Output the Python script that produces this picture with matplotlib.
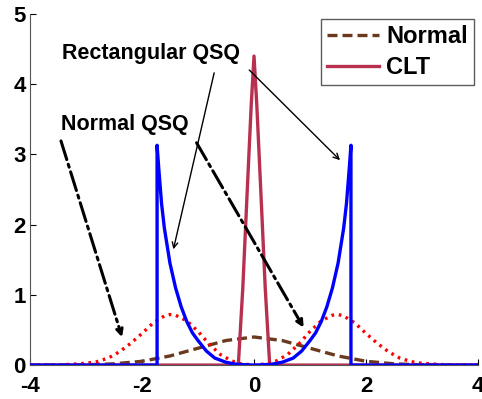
import matplotlib
matplotlib.use("Agg")
import matplotlib.pyplot as plt

plt.rcParams['font.family'] = ['Liberation Sans', 'DejaVu Sans']
plt.rcParams['font.weight'] = 'bold'
plt.rcParams['axes.unicode_minus'] = False

# Normal pdf (brown dashed)
normal_x = [-4, -3.5, -3, -2.5, -2, -1.5, -1, -0.5, 0, 0.5, 1, 1.5, 2, 2.5, 3, 3.5, 4]
normal_y = [0.0, 0.001, 0.004, 0.018, 0.054, 0.13, 0.24, 0.35, 0.40,
            0.35, 0.24, 0.13, 0.054, 0.018, 0.004, 0.001, 0.0]

# CLT (crimson tent)
clt_x = [-4, -0.28, -0.2, -0.12, -0.05, 0, 0.05, 0.12, 0.2, 0.28, 4]
clt_y = [0, 0, 1.1, 2.5, 3.7, 4.4, 3.7, 2.5, 1.1, 0, 0]

# Rectangular QSQ (blue)
rect_x = [-4, -1.73, -1.73, -1.7, -1.65, -1.6, -1.5, -1.4, -1.3, -1.2, -1.1, -1.0,
          -0.85, -0.7, -0.5, -0.3, 0, 0.3, 0.5, 0.7, 0.85, 1.0, 1.1, 1.2, 1.3,
          1.4, 1.5, 1.6, 1.65, 1.7, 1.73, 1.73, 4]
rect_y = [0, 0, 3.13, 2.8, 2.3, 1.95, 1.45, 1.1, 0.83, 0.62, 0.46, 0.35,
          0.2, 0.1, 0.04, 0.01, 0.0, 0.01, 0.04, 0.1, 0.2, 0.35, 0.46, 0.62, 0.83,
          1.1, 1.45, 1.95, 2.3, 2.8, 3.13, 0, 0]

# Normal QSQ (red dotted)
nq_x = [-4, -3.4, -3.0, -2.8, -2.6, -2.4, -2.2, -2.0, -1.8, -1.6, -1.5, -1.4, -1.2,
        -1.0, -0.8, -0.6, -0.4, -0.25, 0, 0.25, 0.4, 0.6, 0.8, 1.0, 1.2, 1.4, 1.5,
        1.6, 1.8, 2.0, 2.2, 2.4, 2.6, 2.8, 3.0, 3.4, 4]
nq_y = [0, 0.005, 0.025, 0.05, 0.1, 0.19, 0.31, 0.45, 0.6, 0.7, 0.72, 0.71, 0.63,
        0.48, 0.3, 0.15, 0.06, 0.02, 0.0, 0.02, 0.06, 0.15, 0.3, 0.48, 0.63, 0.71, 0.72,
        0.7, 0.6, 0.45, 0.31, 0.19, 0.1, 0.05, 0.025, 0.005, 0]

xticks = [-4, -2, 0, 2, 4]
yticks = [0, 1, 2, 3, 4, 5]

fig = plt.figure(figsize=(4.82, 3.99), dpi=100)
ax = fig.add_axes([0.062, 0.085, 0.93, 0.88])

ax.plot(normal_x, normal_y, color='#6b3a1e', lw=2.4, ls=(0, (3, 1.5)), label='Normal', zorder=2)
ax.plot(nq_x, nq_y, color='#ff0000', lw=2.4, ls=(0, (0.8, 1.4)), zorder=3)
ax.plot(clt_x, clt_y, color='#b8304f', lw=2.4, label='CLT', zorder=2)
ax.plot(rect_x, rect_y, color='#0000ff', lw=2.4, zorder=4)

# annotations
ax.text(-3.43, 4.44, 'Rectangular QSQ', fontsize=15.5, fontweight='bold', va='center', ha='left')
ax.annotate('', xy=(-1.45, 1.61), xytext=(-0.70, 4.2),
            arrowprops=dict(arrowstyle='->', color='black', lw=1.0))
ax.annotate('', xy=(1.57, 2.89), xytext=(-0.12, 4.23),
            arrowprops=dict(arrowstyle='->', color='black', lw=1.0))

ax.text(-3.45, 3.42, 'Normal QSQ', fontsize=15.5, fontweight='bold', va='center', ha='left')
ax.annotate('', xy=(-2.34, 0.36), xytext=(-3.46, 3.23),
            arrowprops=dict(arrowstyle='->', color='black', lw=2.2, ls='-.'))
ax.annotate('', xy=(0.91, 0.5), xytext=(-1.05, 3.2),
            arrowprops=dict(arrowstyle='->', color='black', lw=2.2, ls='-.'))

ax.set_xlim(-4, 4)
ax.set_ylim(0, 5)
ax.set_xticks(xticks)
ax.set_yticks(yticks)
ax.tick_params(direction='in', labelsize=16, length=4)
ax.tick_params(axis='x', pad=8)
ax.tick_params(axis='y', pad=3)
for lab in ax.get_xticklabels() + ax.get_yticklabels():
    lab.set_fontweight('bold')
ax.spines['top'].set_visible(False)
ax.spines['right'].set_visible(False)
ax.spines['left'].set_color('#555555')
ax.spines['bottom'].set_color('#555555')

leg = ax.legend(loc='upper right', fontsize=17, handlelength=2.2, borderpad=0.25,
                labelspacing=0.35, handletextpad=0.3, fancybox=False, borderaxespad=0,
                bbox_to_anchor=(0.99, 0.985))
leg.get_frame().set_edgecolor('#333333')
leg.get_frame().set_linewidth(1.0)

fig.savefig('out.png', dpi=100)
